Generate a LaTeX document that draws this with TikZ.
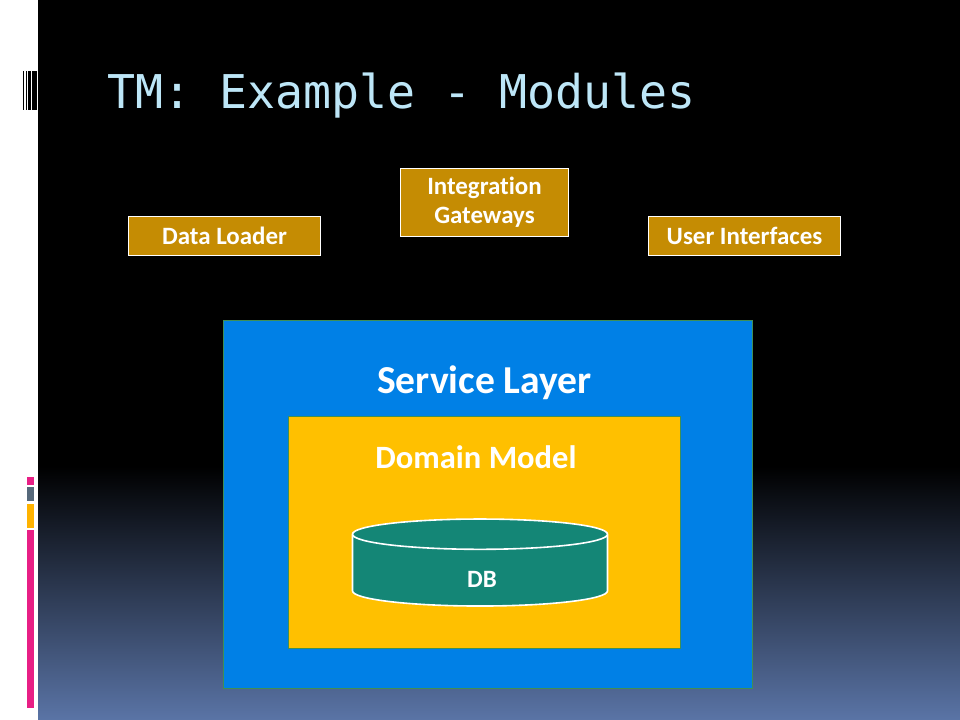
\documentclass[tikz,border=0pt]{standalone}
\usepackage{fontspec}
\setmainfont[Ligatures=NoCommon]{Carlito}
\newfontfamily\titlefont{DejaVu Sans Mono}
\usetikzlibrary{shapes.geometric, positioning}
\definecolor{slideblue}{HTML}{5A74A6}
\definecolor{moduleFill}{HTML}{C58C03}
\definecolor{serviceFill}{HTML}{0080E6}
\definecolor{domainFill}{HTML}{FFC000}
\definecolor{dbFill}{HTML}{148676}
\definecolor{frameGreen}{HTML}{3F8F55}
\definecolor{titleBlue}{HTML}{BDE6F7}
\definecolor{barPink}{HTML}{E81F85}
\definecolor{barGray}{HTML}{56687A}
\definecolor{barAmber}{HTML}{FFB300}

\begin{document}
\begin{tikzpicture}[x=0.75pt, y=-0.75pt, node distance=1cm,
    strip/.style={rectangle, anchor=north west, inner sep=0pt, minimum width=7*0.75pt},
    module/.style={rectangle, draw=white, line width=0.7pt, fill=moduleFill, text=white, font=\fontsize{18.7}{21.7}\selectfont\bfseries, align=center, inner sep=0pt},
    layer/.style={rectangle, draw=frameGreen, line width=0.9pt, anchor=north west, inner sep=0pt},
    caption/.style={text=white, font=\fontsize{29.7}{34}\selectfont\bfseries, inner sep=0pt}
]

    % Slide background
    \path [use as bounding box, fill=white] (0,0) rectangle (960,720);
    \fill [black] (38,0) rectangle (960,466);
    \shade [top color=black, bottom color=slideblue] (38,466) rectangle (960,720);

    % Corner bars
    \foreach \xa/\xb in {23/24.3, 26/27.3, 28/31, 32/37}
        \fill [black] (\xa,71) rectangle (\xb,110);

    % Side strip
    \node [strip, fill=barPink, minimum height=8*0.75pt] (stripa) at (27,477) {};
    \node [strip, fill=barGray, minimum height=14*0.75pt] (stripb) at (27,487) {};
    \node [strip, fill=barAmber, minimum height=24*0.75pt] (stripc) at (27,504) {};
    \node [strip, fill=barPink, minimum height=178*0.75pt] (stripd) at (27,530) {};

    % Title
    \node [anchor=west, inner sep=0pt, text=titleBlue, font=\fontsize{34.9}{40}\selectfont\titlefont] (title) at (107,96) {TM: Example - Modules};

    % Modules
    \node [module, minimum width=192*0.75pt, minimum height=39*0.75pt] (loader) at (224.5,236) {Data Loader};
    \node [module, minimum width=168*0.75pt, minimum height=68*0.75pt] (gateways) at (484.5,202.5) {Integration\\Gateways};
    \node [module, minimum width=192*0.75pt, minimum height=39*0.75pt] (ui) at (744.5,236) {User Interfaces};

    % Layers
    \node [layer, fill=serviceFill, minimum width=529*0.75pt, minimum height=368*0.75pt] (service) at (223,320) {};
    \node [layer, fill=domainFill, minimum width=392*0.75pt, minimum height=232*0.75pt] (domain) at (288,416) {};
    \node [caption] (servicetext) at (484.5,383) {Service Layer};
    \node [caption, font=\fontsize{24.4}{28}\selectfont\bfseries] (domaintext) at (476,457) {Domain Model};

    % Database
    \node [cylinder, shape border rotate=90, draw=white, line width=1.2pt, fill=dbFill, aspect=1.02, minimum width=255*0.75pt, minimum height=87*0.75pt, inner sep=0pt, font=\fontsize{18.7}{22}\selectfont\bfseries] (db) at (480,570.5) {\phantom{DB}};
    \node [caption, font=\fontsize{18.7}{22}\selectfont\bfseries] (dbtext) at (482,579) {DB};

\end{tikzpicture}
\end{document}
